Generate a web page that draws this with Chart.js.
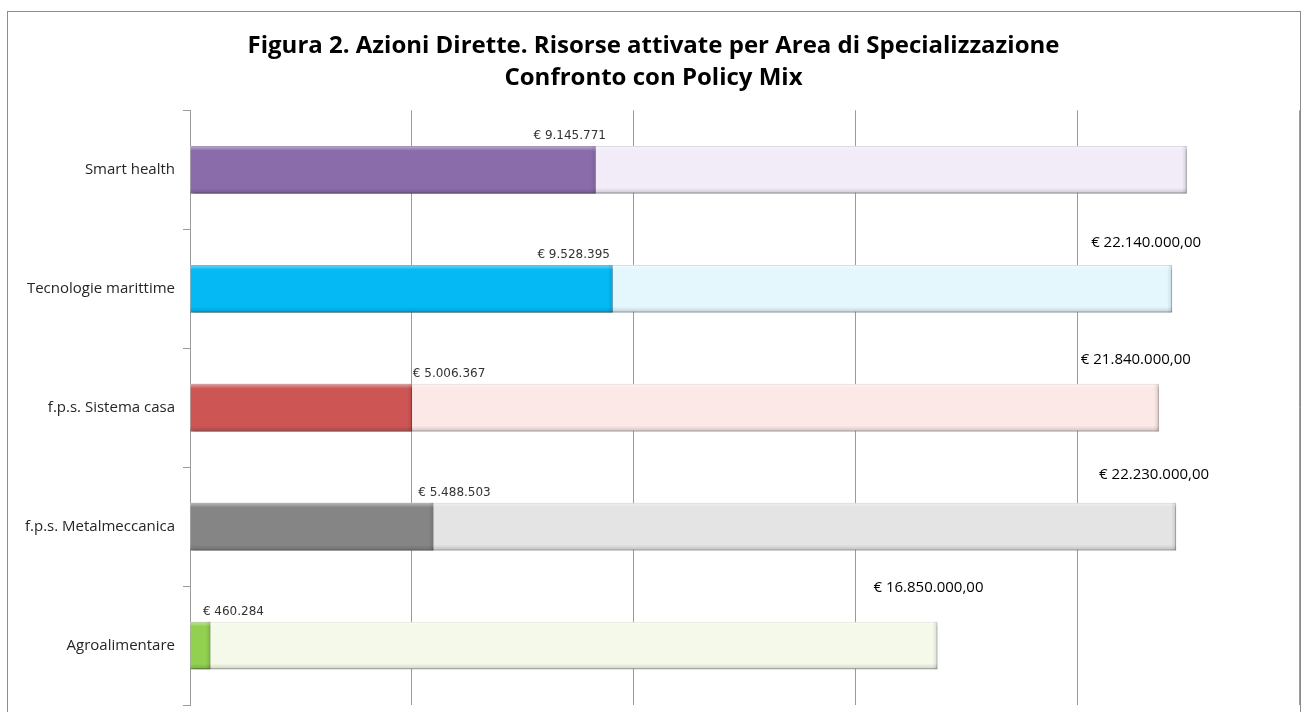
<!DOCTYPE HTML>
<html>
<head>
    <meta charset="utf-8">
    <script src="https://cdn.jsdelivr.net/npm/chart.js"></script>
</head>
<body>
<style>
    * {
        margin: 0;
        padding: 0;
        box-sizing: border-box;
    }
    body {
        background: #ffffff;
        width: 1305px;
        height: 712px;
        overflow: hidden;
    }
    .frame {
        position: absolute;
        left: 7px;
        top: 11px;
        width: 1294px;
        height: 712px;
        border: 1px solid #8c8c8c;
    }
</style>
<div class="frame">
    <canvas id="myChart" width="1292" height="710"></canvas>
</div>
<script>
    // data
    const categories = ['Smart health', 'Tecnologie marittime', 'f.p.s. Sistema casa', 'f.p.s. Metalmeccanica', 'Agroalimentare'];
    const attivate = [9145771, 9528395, 5006367, 5488503, 460284];
    const policyMix = [22470000, 22140000, 21840000, 22230000, 16850000];
    const policyLabelShown = [false, true, true, true, true];
    const xTicks = [0, 5000000, 10000000, 15000000, 20000000, 25000000];

    const darkColors = ['#8a6cab', '#05b9f4', '#cd5654', '#858585', '#92d050'];
    const darkBorders = ['#6e5290', '#0790be', '#a53e3c', '#666666', '#6ea83a'];
    const lightColors = ['#f1ecf8', '#e3f7fd', '#fde8e8', '#e4e4e4', '#f4f9ea'];
    const lightBorders = ['#c9c3d2', '#b9cfd6', '#d8c4c4', '#bdbdbd', '#c9d0bd'];

    function groupThousands(n) {
        return String(Math.round(n)).replace(/\B(?=(\d{3})+(?!\d))/g, '.');
    }

    // soft shadow + bevel look of the office-style bars
    const shadowPlugin = {
        id: 'barShadow',
        beforeDatasetDraw(chart) {
            const ctx = chart.ctx;
            ctx.save();
            ctx.shadowColor = 'rgba(0,0,0,0.28)';
            ctx.shadowBlur = 3;
            ctx.shadowOffsetX = 1;
            ctx.shadowOffsetY = 2;
        },
        afterDatasetDraw(chart, args) {
            const ctx = chart.ctx;
            ctx.restore();
            const meta = chart.getDatasetMeta(args.index);
            meta.data.forEach(bar => {
                const top = bar.y - bar.height / 2;
                const left = bar.base;
                const w = bar.x - bar.base;
                const h = bar.height;
                const g = ctx.createLinearGradient(0, top, 0, top + h);
                g.addColorStop(0, 'rgba(255,255,255,0.45)');
                g.addColorStop(0.1, 'rgba(255,255,255,0.0)');
                g.addColorStop(0.88, 'rgba(0,0,0,0.0)');
                g.addColorStop(1, 'rgba(0,0,0,0.16)');
                ctx.save();
                ctx.fillStyle = g;
                ctx.fillRect(left, top, w, h);
                const g2 = ctx.createLinearGradient(bar.x - 5, 0, bar.x, 0);
                g2.addColorStop(0, 'rgba(0,0,0,0.0)');
                g2.addColorStop(1, 'rgba(0,0,0,0.12)');
                ctx.fillStyle = g2;
                ctx.fillRect(bar.x - 5, top, 5, h);
                ctx.restore();
            });
        }
    };

    const labelPlugin = {
        id: 'valueLabels',
        afterDatasetsDraw(chart, args, opts) {
            const ctx = chart.ctx;
            const small = chart.getDatasetMeta(0).data;
            const big = chart.getDatasetMeta(1).data;
            ctx.save();
            ctx.textAlign = 'center';
            ctx.textBaseline = 'middle';
            ctx.fillStyle = '#333333';
            ctx.font = '12px "DejaVu Sans", sans-serif';
            small.forEach((bar, i) => {
                const top = bar.y - bar.height / 2;
                ctx.fillText('€ ' + groupThousands(attivate[i]), bar.x + opts.smallDx[i], top - 10);
            });
            ctx.fillStyle = '#000000';
            ctx.font = '15px "Open Sans", sans-serif';
            big.forEach((bar, i) => {
                if (!policyLabelShown[i]) return;
                const top = bar.y - bar.height / 2;
                ctx.fillText('€ ' + groupThousands(policyMix[i]) + ',00', bar.x + opts.bigDx[i], top + opts.bigDy[i]);
            });
            ctx.restore();
        }
    };

    const ctx = document.getElementById('myChart');
    new Chart(ctx, {
        type: 'bar',
        data: {
            labels: categories,
            datasets: [{
                label: 'Risorse attivate',
                data: attivate,
                backgroundColor: darkColors,
                borderColor: darkBorders,
                borderWidth: 1,
                grouped: false,
                barPercentage: 0.8,
                categoryPercentage: 0.5
            }, {
                label: 'Policy Mix',
                data: policyMix,
                backgroundColor: lightColors,
                borderColor: lightBorders,
                borderWidth: 1,
                grouped: false,
                barPercentage: 0.8,
                categoryPercentage: 0.5
            }]
        },
        plugins: [shadowPlugin, labelPlugin],
        options: {
            indexAxis: 'y',
            responsive: false,
            animation: false,
            devicePixelRatio: 1,
            layout: {
                padding: {left: 0, right: 1, top: 0, bottom: 6}
            },
            scales: {
                x: {
                    min: 0,
                    max: 25000000,
                    afterBuildTicks(scale) {
                        scale.ticks = xTicks.map(v => ({value: v}));
                    },
                    afterFit(scale) {
                        scale.height = 0;
                    },
                    ticks: {display: false},
                    border: {display: false},
                    grid: {
                        color: '#9a9a9a',
                        lineWidth: 1,
                        drawTicks: false
                    }
                },
                y: {
                    afterFit(scale) {
                        scale.width = 182;
                    },
                    ticks: {
                        color: '#262626',
                        padding: 8,
                        font: {family: '"Open Sans", sans-serif', size: 15}
                    },
                    border: {display: true, color: '#9a9a9a', width: 1},
                    grid: {
                        offset: true,
                        drawOnChartArea: false,
                        tickLength: 7,
                        color: '#9a9a9a'
                    }
                }
            },
            plugins: {
                legend: {display: false},
                tooltip: {enabled: false},
                title: {
                    display: true,
                    text: ['Figura 2. Azioni Dirette. Risorse attivate per Area di Specializzazione', 'Confronto con Policy Mix'],
                    color: '#000000',
                    font: {family: '"Open Sans", sans-serif', size: 24, weight: 'bold', lineHeight: 1.34},
                    padding: {top: 18, bottom: 16}
                },
                valueLabels: {
                    smallDx: [-26, -39, 37, 21, 23],
                    bigDx: [0, -26, -23, -22, -9],
                    bigDy: [0, -22, -24, -28, -34]
                }
            }
        }
    });
</script>
</body>
</html>
